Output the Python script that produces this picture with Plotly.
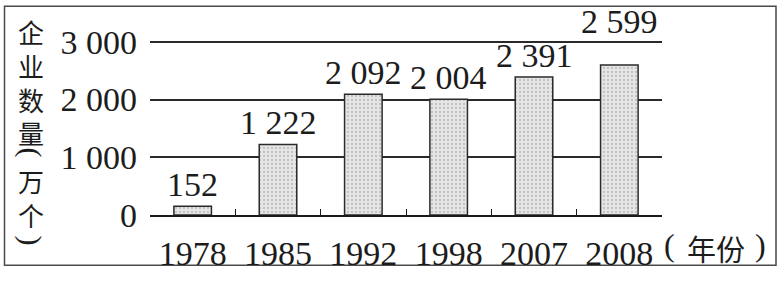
import plotly.graph_objects as go

years = ["1978", "1985", "1992", "1998", "2007", "2008"]
counts = [152, 1222, 2092, 2004, 2391, 2599]
label_texts = ["152", "1 222", "2 092", "2 004", "2 391", "2 599"]
ytick_vals = [0, 1000, 2000, 3000]
ytick_text = ["0", "1 000", "2 000", "3 000"]
ytitle_upper = "企<br>业<br>数<br>量"
ytitle_lower = "万<br>个"
ytitle_parens = ["(", ")"]
xtitle_parts = ["(", "年份", ")"]

W, H = 779, 284
L, R, T, B = 150, 662, 38, 225  # plot area in pixels
Y_TOP_PX = 42  # pixel row of the 3 000 gridline
YMAX = 3000 * (B - T) / (B - Y_TOP_PX)


def px_x(p):
    return (p - L) / (R - L)


def px_y(p):
    return (B - p) / (B - T)


SERIF = "Liberation Serif"
CJK = "Noto Sans CJK SC"
INK = "#1c1c1c"

fig = go.Figure()
fig.add_trace(go.Bar(
    x=years, y=counts, width=0.44,
    marker=dict(
        color="#e4e4e4",
        line=dict(color="#2a2a2a", width=1.5),
        pattern=dict(shape=".", fgcolor="#9a9a9a", bgcolor="#e6e6e6", size=4, solidity=0.25),
    ),
    hoverinfo="skip",
))

annotations = []
for i, (v, t) in enumerate(zip(counts, label_texts)):
    shift = 23 if i == len(counts) - 1 else 1
    annotations.append(dict(
        x=i, y=v, xref="x", yref="y", text=t, showarrow=False,
        yanchor="bottom", xanchor="center", yshift=shift,
        font=dict(family=SERIF, size=34, color=INK),
    ))

# vertical y-axis title
annotations.append(dict(
    x=px_x(31), y=px_y(84.5), xref="paper", yref="paper", text=ytitle_upper,
    showarrow=False, xanchor="center", yanchor="middle",
    font=dict(family=CJK, size=26, color=INK),
))
annotations.append(dict(
    x=px_x(31), y=px_y(206), xref="paper", yref="paper", text=ytitle_lower,
    showarrow=False, xanchor="center", yanchor="middle",
    font=dict(family=CJK, size=26, color=INK),
))
for ch, cy in zip(ytitle_parens, [159, 252]):
    annotations.append(dict(
        x=px_x(31), y=px_y(cy), xref="paper", yref="paper", text=ch,
        showarrow=False, xanchor="center", yanchor="middle", textangle=90,
        font=dict(family=SERIF, size=30, color=INK),
    ))

xtitle_centers = [669, 716, 760]
for part, cx in zip(xtitle_parts, xtitle_centers):
    is_paren = part in "()"
    annotations.append(dict(
        x=px_x(cx), y=px_y(260 if not is_paren else 257), xref="paper", yref="paper", text=part,
        showarrow=False, xanchor="center", yanchor="middle",
        font=dict(family=SERIF if is_paren else CJK, size=32 if is_paren else 29, color=INK),
    ))

fig.update_layout(
    width=W, height=H,
    margin=dict(l=L, r=W - R, t=T, b=H - B, pad=0),
    paper_bgcolor="white", plot_bgcolor="white",
    showlegend=False,
    annotations=annotations,
    shapes=[dict(
        type="rect", xref="paper", yref="paper",
        x0=px_x(4.5), x1=px_x(776), y0=px_y(278), y1=px_y(4.5),
        line=dict(color="#4a4a4a", width=1.5), layer="below",
    )],
)

fig.update_xaxes(
    type="category", range=[-0.5, 5.5],
    showline=True, linecolor="#1a1a1a", linewidth=1.5,
    ticks="inside", tickson="boundaries", ticklen=6, tickwidth=1.2, tickcolor="#1a1a1a",
    tickfont=dict(family=SERIF, size=34, color=INK),
    ticklabelstandoff=7,
    showgrid=False, zeroline=False,
)
fig.update_yaxes(
    range=[0, YMAX],
    tickvals=ytick_vals, ticktext=ytick_text,
    showgrid=True, gridcolor="#2a2a2a", gridwidth=1.5,
    zeroline=False, showline=False, ticks="",
    tickfont=dict(family=SERIF, size=34, color=INK),
    ticklabelstandoff=12,
)

fig.write_html("out.html")
